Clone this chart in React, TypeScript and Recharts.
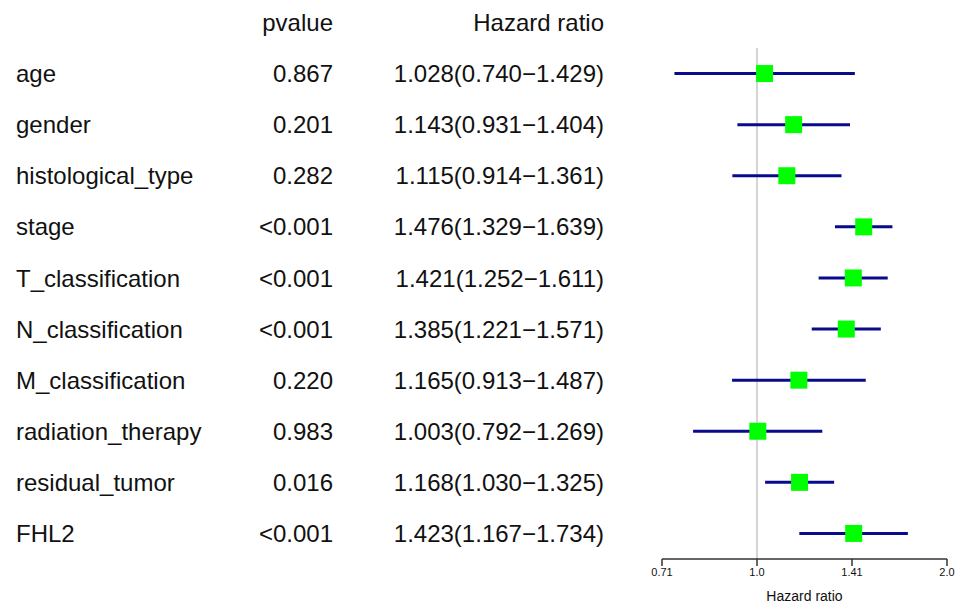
import { ComposedChart, Scatter, ErrorBar, XAxis, YAxis, ReferenceLine } from 'recharts';

const variables = [
  'age',
  'gender',
  'histological_type',
  'stage',
  'T_classification',
  'N_classification',
  'M_classification',
  'radiation_therapy',
  'residual_tumor',
  'FHL2',
];
const pvalues = ['0.867', '0.201', '0.282', '<0.001', '<0.001', '<0.001', '0.220', '0.983', '0.016', '<0.001'];
const hazard = [1.028, 1.143, 1.115, 1.476, 1.421, 1.385, 1.165, 1.003, 1.168, 1.423];
const lower = [0.74, 0.931, 0.914, 1.329, 1.252, 1.221, 0.913, 0.792, 1.03, 1.167];
const upper = [1.429, 1.404, 1.361, 1.639, 1.611, 1.571, 1.487, 1.269, 1.325, 1.734];

const xTickValues = [Math.SQRT1_2, 1, Math.SQRT2, 2];
const xTickLabels = ['0.71', '1.0', '1.41', '2.0'];

const FONT = '"Liberation Sans", Arial, sans-serif';

const rows = variables.map((name, i) => ({
  row: i + 1,
  name,
  pvalue: pvalues[i],
  hr: hazard[i],
  ci: [hazard[i] - lower[i], upper[i] - hazard[i]],
  label: `${hazard[i].toFixed(3)}(${lower[i].toFixed(3)}\u2212${upper[i].toFixed(3)})`,
}));

const RowTick = (props: any) => {
  const { y, payload } = props;
  const idx = payload.value;
  const textProps = { fontSize: 24, fill: '#111', fontFamily: FONT, dy: '0.36em' };
  if (idx === 0) {
    return (
      <g>
        <text x={333} y={y} textAnchor="end" {...textProps}>pvalue</text>
        <text x={604} y={y} textAnchor="end" {...textProps}>Hazard ratio</text>
      </g>
    );
  }
  const r = rows[idx - 1];
  if (!r) return null;
  return (
    <g>
      <text x={16} y={y} textAnchor="start" {...textProps}>{r.name}</text>
      <text x={333} y={y} textAnchor="end" {...textProps}>{r.pvalue}</text>
      <text x={604} y={y} textAnchor="end" {...textProps}>{r.label}</text>
    </g>
  );
};

const Square = (props: any) => {
  const { cx, cy } = props;
  return <rect x={cx - 8.5} y={cy - 8.5} width={17} height={17} fill="#00FF00" />;
};

export default function App() {
  return (
    <div style={{ position: 'absolute', left: 0, top: 0, width: 956, height: 603, background: '#fff' }}>
      <ComposedChart width={956} height={603} data={rows} margin={{ top: 2, right: 9, bottom: 0, left: 0 }}>
        <XAxis
          dataKey="hr"
          type="number"
          scale="log"
          domain={[Math.SQRT1_2, 2]}
          ticks={xTickValues}
          tickFormatter={(v: number) => xTickLabels[xTickValues.indexOf(v)] ?? ''}
          allowDataOverflow
          height={44}
          tickSize={7}
          tick={{ fontSize: 11, fill: '#111', fontFamily: FONT }}
          axisLine={{ stroke: '#333', strokeWidth: 1.5 }}
          tickLine={{ stroke: '#333', strokeWidth: 1.5 }}
          interval={0}
          label={{ value: 'Hazard ratio', position: 'insideBottom', offset: 2, fontSize: 14, fill: '#111', fontFamily: FONT }}
        />
        <YAxis
          dataKey="row"
          type="number"
          domain={[-0.4, 10.5]}
          reversed
          ticks={[0, 1, 2, 3, 4, 5, 6, 7, 8, 9, 10]}
          interval={0}
          width={662}
          axisLine={false}
          tickLine={false}
          tick={<RowTick />}
        />
        <ReferenceLine
          segment={[{ x: 1, y: 0.5 }, { x: 1, y: 10.5 }]}
          stroke="#d4d4d4"
          strokeWidth={2}
        />
        <Scatter dataKey="row" shape={<Square />} isAnimationActive={false}>
          <ErrorBar dataKey="ci" direction="x" width={0} stroke="#0a0a8c" strokeWidth={3} />
        </Scatter>
      </ComposedChart>
    </div>
  );
}
